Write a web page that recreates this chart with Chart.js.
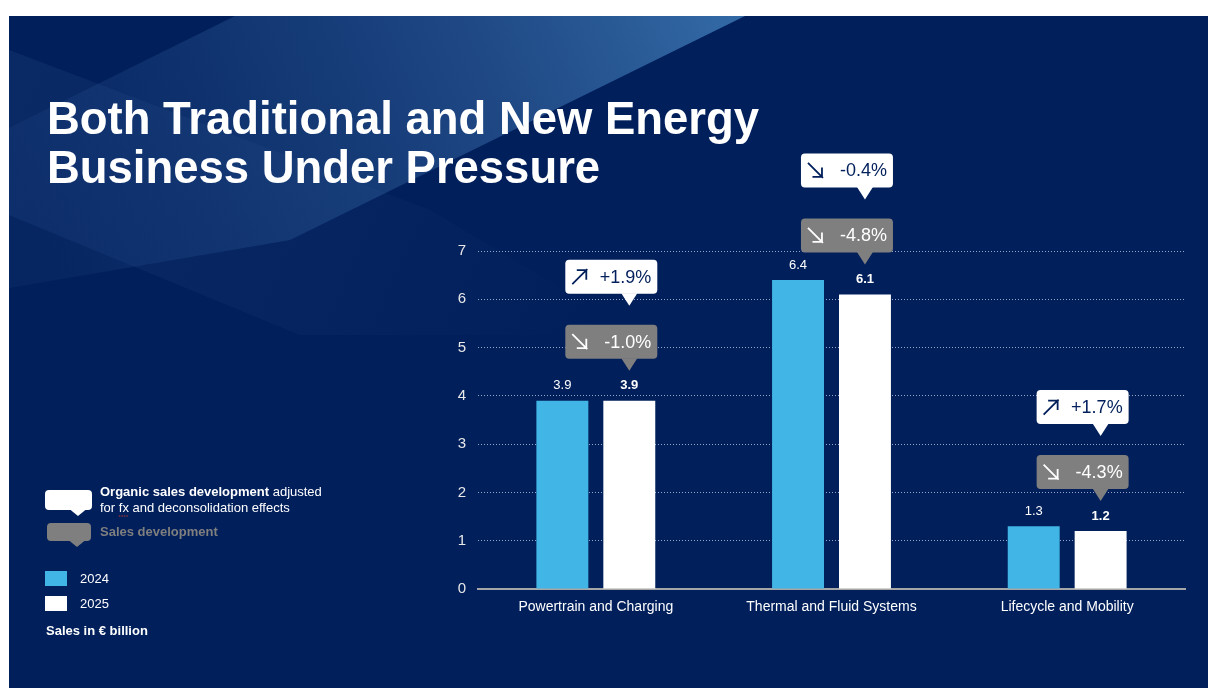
<!DOCTYPE html>
<html><head><meta charset="utf-8">
<script src="https://cdn.jsdelivr.net/npm/chart.js@4.4.1/dist/chart.umd.min.js"></script>
<style>
html,body{margin:0;padding:0;background:#fff;}
#wrap{position:relative;width:1208px;height:688px;}
canvas{display:block;}
</style></head><body>
<div id="wrap"><canvas id="c" width="1208" height="688"></canvas></div>
<script>
const categories = ['Powertrain and Charging', 'Thermal and Fluid Systems', 'Lifecycle and Mobility'];
const seriesLabels = ['2024', '2025'];
const sales2024 = [3.9, 6.4, 1.3];
const sales2025 = [3.9, 6.1, 1.2];
const organicGrowth = [1.9, -0.4, 1.7];   // white callouts
const salesGrowth = [-1.0, -4.8, -4.3];   // grey callouts
const yTickMin = 0, yTickMax = 7, yTickStep = 1;
const titleLines = ['Both Traditional and New Energy', 'Business Under Pressure'];
const legendOrganicBold = 'Organic sales development';
const legendOrganicRest = ' adjusted';
const legendOrganicLine2 = 'for fx and deconsolidation effects';
const legendSales = 'Sales development';
const unitNote = 'Sales in € billion';

const NAVY = '#011f5b';
const BLUE = '#41b6e6';
const GREY = '#7f7f7f';
const FONT = "'Liberation Sans', Arial, Helvetica, sans-serif";

function rr(ctx, x, y, w, h, r) {
  ctx.beginPath();
  ctx.moveTo(x + r, y);
  ctx.lineTo(x + w - r, y); ctx.quadraticCurveTo(x + w, y, x + w, y + r);
  ctx.lineTo(x + w, y + h - r); ctx.quadraticCurveTo(x + w, y + h, x + w - r, y + h);
  ctx.lineTo(x + r, y + h); ctx.quadraticCurveTo(x, y + h, x, y + h - r);
  ctx.lineTo(x, y + r); ctx.quadraticCurveTo(x, y, x + r, y);
  ctx.closePath();
}
function bubble(ctx, x, y, w, h, px, ph, fill) {
  ctx.fillStyle = fill;
  rr(ctx, x, y, w, h, 4); ctx.fill();
  ctx.beginPath();
  ctx.moveTo(px - 8, y + h - 0.5); ctx.lineTo(px, y + h + ph); ctx.lineTo(px + 8, y + h - 0.5);
  ctx.closePath(); ctx.fill();
}
function arrow(ctx, x0, y0, s, up, color) {
  ctx.save();
  ctx.strokeStyle = color; ctx.lineWidth = 1.8; ctx.lineCap = 'butt';
  ctx.beginPath();
  if (up) {
    ctx.moveTo(x0, y0 + s); ctx.lineTo(x0 + s, y0);
    ctx.moveTo(x0 + s * 0.3, y0 + 1); ctx.lineTo(x0 + s - 1, y0 + 1); ctx.lineTo(x0 + s - 1, y0 + s * 0.7);
  } else {
    ctx.moveTo(x0, y0); ctx.lineTo(x0 + s, y0 + s);
    ctx.moveTo(x0 + s * 0.3, y0 + s - 1); ctx.lineTo(x0 + s - 1, y0 + s - 1); ctx.lineTo(x0 + s - 1, y0 + s * 0.3);
  }
  ctx.stroke();
  ctx.restore();
}
function fmtPct(v) { return (v > 0 ? '+' : '') + v.toFixed(1) + '%'; }

const backgroundPlugin = {
  id: 'bg',
  beforeDraw(chart) {
    const ctx = chart.ctx;
    ctx.save();
    ctx.fillStyle = '#ffffff';
    ctx.fillRect(0, 0, 1208, 688);
    ctx.beginPath(); ctx.rect(9, 16, 1199, 672); ctx.clip();
    ctx.fillStyle = NAVY;
    ctx.fillRect(9, 16, 1199, 672);
    // descending faint band
    let g2 = ctx.createLinearGradient(9, 60, 600, 330);
    g2.addColorStop(0, 'rgba(90,140,200,0.10)');
    g2.addColorStop(1, 'rgba(90,140,200,0.0)');
    ctx.fillStyle = g2;
    ctx.beginPath();
    ctx.moveTo(9, 50); ctx.lineTo(430, 210); ctx.lineTo(640, 335); ctx.lineTo(300, 335); ctx.lineTo(9, 215);
    ctx.closePath(); ctx.fill();
    // ascending bright band
    let g = ctx.createLinearGradient(720, 16, 60, 280);
    g.addColorStop(0, 'rgba(70,135,195,0.7)');
    g.addColorStop(0.35, 'rgba(65,120,180,0.45)');
    g.addColorStop(0.7, 'rgba(55,105,165,0.27)');
    g.addColorStop(1, 'rgba(50,95,155,0.1)');
    ctx.fillStyle = g;
    ctx.beginPath();
    ctx.moveTo(235, 16); ctx.lineTo(745, 16); ctx.lineTo(290, 240); ctx.lineTo(9, 288); ctx.lineTo(9, 128);
    ctx.closePath(); ctx.fill();
    ctx.restore();
  }
};

const overlayPlugin = {
  id: 'overlay',
  afterDraw(chart) {
    const ctx = chart.ctx;
    const yScale = chart.scales.y;
    ctx.save();
    // Title
    ctx.fillStyle = '#ffffff';
    ctx.textAlign = 'left'; ctx.textBaseline = 'alphabetic';
    ctx.font = 'bold 46px ' + FONT;
    const w0 = ctx.measureText(titleLines[0]).width;
    const sx = 712 / w0;
    ctx.save(); ctx.translate(47, 0); ctx.scale(sx, 1);
    ctx.fillText(titleLines[0], 0, 134);
    ctx.fillText(titleLines[1], 0, 183);
    ctx.restore();

    // value labels
    [sales2024, sales2025].forEach((arr, di) => {
      const meta = chart.getDatasetMeta(di);
      meta.data.forEach((bar, i) => {
        ctx.font = (di === 1 ? 'bold ' : '') + '13px ' + FONT;
        ctx.fillStyle = '#ffffff';
        ctx.textAlign = 'center'; ctx.textBaseline = 'middle';
        ctx.fillText(arr[i].toFixed(1), bar.x, bar.y - 15);
      });
    });

    // callouts anchored to 2025 bars
    const meta25 = chart.getDatasetMeta(1);
    meta25.data.forEach((bar, i) => {
      const cx = bar.x;
      const greyTip = yScale.getPixelForValue(sales2025[i]) - 30;
      const whiteTip = greyTip - 65;
      [[whiteTip, '#ffffff', NAVY, organicGrowth[i]], [greyTip, GREY, '#ffffff', salesGrowth[i]]].forEach(([tip, fill, tc, v]) => {
        const L = cx - 64, R = cx + 28, bottom = tip - 12, top = bottom - 34;
        bubble(ctx, L, top, R - L, 34, cx, 12, fill);
        const mid = (top + bottom) / 2;
        arrow(ctx, L + 7, mid - 7.5, 15, v > 0, tc);
        ctx.fillStyle = tc;
        ctx.font = '18px ' + FONT;
        ctx.textAlign = 'right'; ctx.textBaseline = 'middle';
        ctx.fillText(fmtPct(v), R - 6, mid + 1);
      });
    });

    // Legend (bottom-left)
    bubble(ctx, 45, 490, 47, 20, 78, 6, '#ffffff');
    bubble(ctx, 47, 523, 44, 18, 77, 6, GREY);
    ctx.textAlign = 'left'; ctx.textBaseline = 'middle';
    ctx.fillStyle = '#ffffff';
    ctx.font = 'bold 13px ' + FONT;
    ctx.fillText(legendOrganicBold, 100, 492);
    const bw = ctx.measureText(legendOrganicBold).width;
    ctx.font = '13px ' + FONT;
    ctx.fillText(legendOrganicRest, 100 + bw, 492);
    ctx.fillText(legendOrganicLine2, 100, 508);
    const fxw = ctx.measureText('for ').width, fxw2 = ctx.measureText('fx').width;
    ctx.strokeStyle = '#c0392b'; ctx.lineWidth = 1;
    ctx.setLineDash([1.5, 1]);
    ctx.beginPath(); ctx.moveTo(100 + fxw, 516); ctx.lineTo(100 + fxw + fxw2, 516); ctx.stroke();
    ctx.setLineDash([]);
    ctx.fillStyle = GREY;
    ctx.font = 'bold 13px ' + FONT;
    ctx.fillText(legendSales, 100, 532);

    seriesLabels.forEach((lab, i) => {
      const y = 571 + i * 25;
      ctx.fillStyle = chart.data.datasets[i].backgroundColor;
      ctx.fillRect(45, y, 22, 15);
      ctx.fillStyle = '#ffffff';
      ctx.font = '13px ' + FONT;
      ctx.fillText(lab, 80, y + 8);
    });
    ctx.font = 'bold 13px ' + FONT;
    ctx.fillStyle = '#ffffff';
    ctx.fillText(unitNote, 46, 631);
    ctx.restore();
  }
};

new Chart(document.getElementById('c'), {
  type: 'bar',
  data: {
    labels: categories,
    datasets: [
      { label: seriesLabels[0], data: sales2024, backgroundColor: BLUE, categoryPercentage: 0.568, barPercentage: 0.776 },
      { label: seriesLabels[1], data: sales2025, backgroundColor: '#ffffff', categoryPercentage: 0.568, barPercentage: 0.776 }
    ]
  },
  options: {
    responsive: false,
    animation: false,
    devicePixelRatio: 1,
    layout: { padding: { left: 438, right: 23, top: 251, bottom: 69 } },
    plugins: { legend: { display: false }, tooltip: { enabled: false }, title: { display: false } },
    scales: {
      x: {
        grid: { display: false, drawTicks: false },
        border: { display: true, color: '#a6a6a6', width: 2 },
        ticks: { color: '#ffffff', font: { family: FONT, size: 14 }, padding: 10, maxRotation: 0 },
        afterFit(s) { s.height = 30; }
      },
      y: {
        min: yTickMin, max: yTickMax,
        grid: { color: 'rgba(180,190,220,0.85)', lineWidth: 1, drawTicks: false },
        border: { display: false, dash: [1, 2] },
        ticks: { stepSize: yTickStep, color: '#e8e8e8', font: { family: FONT, size: 15 }, padding: 12 },
        afterFit(s) { s.width = 40; }
      }
    }
  },
  plugins: [backgroundPlugin, overlayPlugin]
});
</script>
</body></html>
